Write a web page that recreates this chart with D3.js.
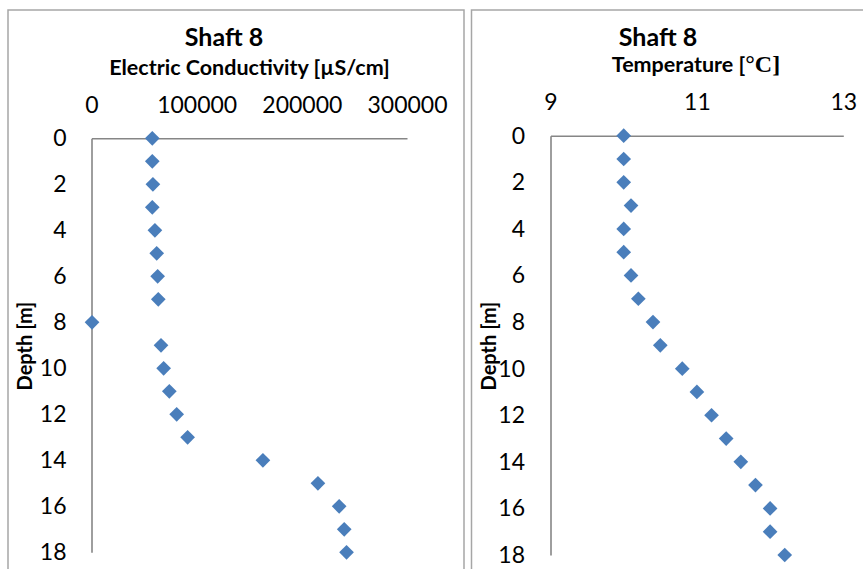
<!DOCTYPE html>
<html><head><meta charset="utf-8">
<script src="https://cdn.jsdelivr.net/npm/d3@7"></script>
<style>
html,body{margin:0;padding:0;background:#fff;}
svg{display:block;}
text{font-family:Lato,"Open Sans",sans-serif;fill:#000;}
</style></head>
<body>
<svg id="c" width="863" height="569"></svg>
<script>
const depths = [0,1,2,3,4,5,6,7,8,9,10,11,12,13,14,15,16,17,18];
const conductivity = [57800,57800,58400,57800,60300,62000,62900,63500,500,66100,68600,74000,81000,91400,163000,215300,235500,240300,242500];
const temperature = [10.0,10.0,10.0,10.1,10.0,10.0,10.1,10.2,10.4,10.5,10.8,11.0,11.2,11.4,11.6,11.8,12.0,12.0,12.2];
const depthTicks = [0,2,4,6,8,10,12,14,16,18];
const condTicks = [0,100000,200000,300000];
const tempTicks = [9,11,13];
const titleText = "Shaft 8";
const depthLabel = "Depth [m]";

const svg = d3.select("#c");
const markerColor = "#4a7ebb";
const axisColor = "#868686";

// panel borders
svg.append("rect").attr("x",8).attr("y",10).attr("width",456).attr("height",575)
  .attr("fill","none").attr("stroke","#a6a6a6").attr("stroke-width",1.5);
svg.append("rect").attr("x",471.5).attr("y",10).attr("width",400).attr("height",575)
  .attr("fill","none").attr("stroke","#a6a6a6").attr("stroke-width",1.5);

function panel(o){
  const x = d3.scaleLinear().domain(o.xDomain).range(o.xRange);
  const y = d3.scaleLinear().domain([0,18]).range(o.yRange);
  const g = svg.append("g");

  const ax = g.append("g").attr("transform",`translate(0,${o.yRange[0]})`)
    .call(d3.axisTop(x).tickValues(o.xTicks).tickSize(0).tickSizeOuter(0).tickPadding(o.xPad).tickFormat(d3.format("d")));
  const ay = g.append("g").attr("transform",`translate(${o.xRange[0]},0)`)
    .call(d3.axisLeft(y).tickValues(depthTicks).tickSize(0).tickSizeOuter(0).tickPadding(o.yPad));
  [ax,ay].forEach(a=>{
    a.select(".domain").attr("stroke",axisColor).attr("stroke-width",1.6);
    a.selectAll("text").attr("font-size",23).attr("font-family","Lato,sans-serif").attr("fill","#000");
  });

  g.selectAll("path.pt").data(o.values).join("path").attr("class","pt")
    .attr("d", d3.symbol().type(d3.symbolSquare).size(108))
    .attr("transform",(d,i)=>`translate(${x(d)},${y(depths[i])}) rotate(45)`)
    .attr("fill",markerColor);

  g.append("text").attr("x",o.titleX).attr("y",46).attr("text-anchor","middle")
    .attr("font-size",25).attr("font-weight","bold").text(titleText);
  const st = g.append("text").attr("x",o.subX).attr("y",o.subY).attr("text-anchor","middle")
    .attr("font-size",21.5).attr("font-weight","bold");
  o.sub(st);

  g.append("text").attr("transform",`translate(${o.depthX},346) rotate(-90)`)
    .attr("text-anchor","middle").attr("font-size",20).attr("font-weight","bold").text(depthLabel);
}

panel({
  xDomain:[0,300000], xRange:[91.5,407], yRange:[138.3,552.3],
  xTicks:condTicks, xPad:25, yPad:25,
  values:conductivity, titleX:224, subX:249.5, subY:75, depthX:32,
  sub: t=>t.text("Electric Conductivity [µS/cm]")
});
panel({
  xDomain:[9,13], xRange:[550.5,843.3], yRange:[135.7,555],
  xTicks:tempTicks, xPad:25.5, yPad:25.5,
  values:temperature, titleX:658, subX:696, subY:72, depthX:496,
  sub: t=>{
    t.append("tspan").text("Temperature [");
    t.append("tspan").attr("font-family","'Liberation Serif',serif").attr("font-size",24).text("°C]");
  }
});
</script>
</body></html>
